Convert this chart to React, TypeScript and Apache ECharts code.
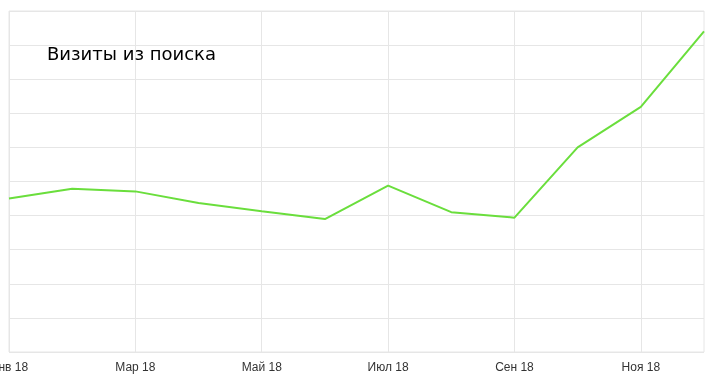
import React, { useEffect, useRef } from "react";
import * as echarts from "echarts";

const months = ["Янв 18", "Фев 18", "Мар 18", "Апр 18", "Май 18", "Июн 18", "Июл 18", "Авг 18", "Сен 18", "Окт 18", "Ноя 18", "Дек 18"];
const visits = [4.5, 4.79, 4.71, 4.37, 4.13, 3.9, 4.88, 4.1, 3.94, 6.0, 7.19, 9.4];
const titleText = "Визиты из поиска";

export default function App() {
  const ref = useRef<HTMLDivElement>(null);
  useEffect(() => {
    if (!ref.current) return;
    const chart = echarts.init(ref.current, undefined, { renderer: "svg" });
    chart.setOption({
      animation: false,
      title: {
        text: titleText,
        left: 42,
        top: 39,
        textStyle: { fontSize: 18, fontFamily: "DejaVu Sans", fontWeight: "normal", color: "#000" },
      },
      grid: {
        left: 9,
        right: 10,
        top: 11,
        bottom: 31,
        outerBoundsMode: "none",
        containLabel: false,
        show: true,
        borderColor: "#e6e6e6",
        borderWidth: 1,
      },
      xAxis: {
        type: "category",
        data: months,
        boundaryGap: false,
        axisLine: { show: false },
        axisTick: { show: false },
        axisLabel: { interval: 1, color: "#333", fontSize: 12, fontFamily: "Liberation Sans", margin: 9 },
        splitLine: { show: true, interval: 1, lineStyle: { color: "#e6e6e6", width: 1 } },
      },
      yAxis: {
        type: "value",
        min: 0,
        max: 10,
        interval: 1,
        axisLine: { show: false },
        axisTick: { show: false },
        axisLabel: { show: false },
        splitLine: { show: true, lineStyle: { color: "#e6e6e6", width: 1 } },
      },
      series: [
        {
          type: "line",
          data: visits,
          symbol: "none",
          lineStyle: { color: "#6ade3c", width: 2 },
        },
      ],
    });
    return () => chart.dispose();
  }, []);
  return <div ref={ref} style={{ position: "fixed", left: 0, top: 0, width: 714, height: 383 }} />;
}
